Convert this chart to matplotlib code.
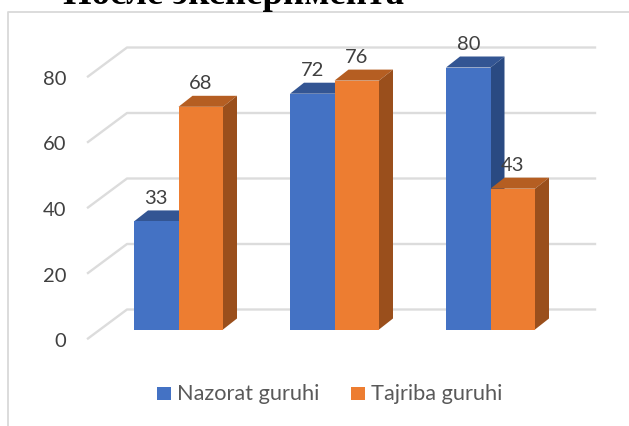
import matplotlib
matplotlib.use('Agg')
import matplotlib.pyplot as plt
from matplotlib.patches import Polygon, Rectangle

groups = [0, 1, 2]
nazorat = [33, 72, 80]
tajriba = [68, 76, 43]
ticks = [0, 20, 40, 60, 80]
names = ['Nazorat guruhi', 'Tajriba guruhi']
title = 'После эксперимента'

W, H = 629, 427
BLUE = ['#4472C4', '#335593', '#2A4A82']
ORANGE = ['#ED7D31', '#B55E22', '#9A4F1C']
GRID = '#DCDCDC'
TXT = '#404040'

plt.rcParams['font.family'] = ['Lato', 'DejaVu Sans']

fig = plt.figure(figsize=(W / 100, H / 100), dpi=100)

# y: value 0 at pixel 330, 80 at pixel 68. x: one group = 156 px, first bar left at 134
x0 = -134 / 156
x1 = x0 + W / 156
ax = fig.add_axes([0, 0, 1, 1])
ax.set_xlim(x0, x1)
u = 262 / 80
ax.set_ylim(-(H - 330.5) / u, 330.5 / u)
ax.axis('off')

px = 1 / 156  # one pixel in x data units
bw = 44.5 * px
dx, dy = 14 * px, 11 / u


def bar3d(x, v, cols, z):
    ax.add_patch(Rectangle((x, 0), bw, v, fc=cols[0], ec='none', zorder=z + 1))
    ax.add_patch(Polygon([(x, v), (x + dx, v + dy), (x + bw + dx, v + dy), (x + bw, v)],
                         fc=cols[1], ec='none', zorder=z))
    ax.add_patch(Polygon([(x + bw, 0), (x + bw + dx, dy), (x + bw + dx, v + dy), (x + bw, v)],
                         fc=cols[2], ec='none', zorder=z))


# frame of the chart area, runs off the picture on the right and bottom
fx, fy = (8 - 134) * px, (330 - 12) / u
ax.plot([fx, fx, x1], [-(H - 330) / u, fy, fy], color='#D9D9D9', lw=1.3, zorder=0)

# gridlines: front left end then back wall
gdx0, gdx1 = (88 - 134) * px, (127 - 134) * px
gx2 = (595 - 134) * px
for t in ticks:
    yf = t - 9 / u
    yb = t + 20 / u
    ax.plot([gdx0, gdx1, gx2], [yf, yb, yb], color=GRID, lw=1.7, zorder=1)
    ax.text((66 - 134) * px, yf - 2 / u, str(t), ha='right', va='center', fontsize=14.5, color=TXT)

for g, a, b in zip(groups, nazorat, tajriba):
    bar3d(g, a, BLUE, 2)
    bar3d(g + bw, b, ORANGE, 4)
    ax.text(g + bw / 2, a + 24 / u, str(a), ha='center', va='center', fontsize=14.5, color=TXT, zorder=8)
    ax.text(g + bw * 1.5, b + 24 / u, str(b), ha='center', va='center', fontsize=14.5, color=TXT, zorder=8)

# legend
ly = -(394 - 330) / u
for lx, c, n in zip([157, 351], [BLUE[0], ORANGE[0]], names):
    ax.add_patch(Rectangle(((lx - 134) * px, ly - 6.5 / u), 14 * px, 13 / u, fc=c, ec='none'))
    ax.text((lx - 134 + 20) * px, ly, n, ha='left', va='center', fontsize=15.7, color='#595959')

ax.text((63 - 134) * px, (330 - 3) / u, title, family='Liberation Serif', weight='bold',
        fontsize=26.5, color='black', ha='left', va='baseline')

fig.savefig('out.png', dpi=100)
